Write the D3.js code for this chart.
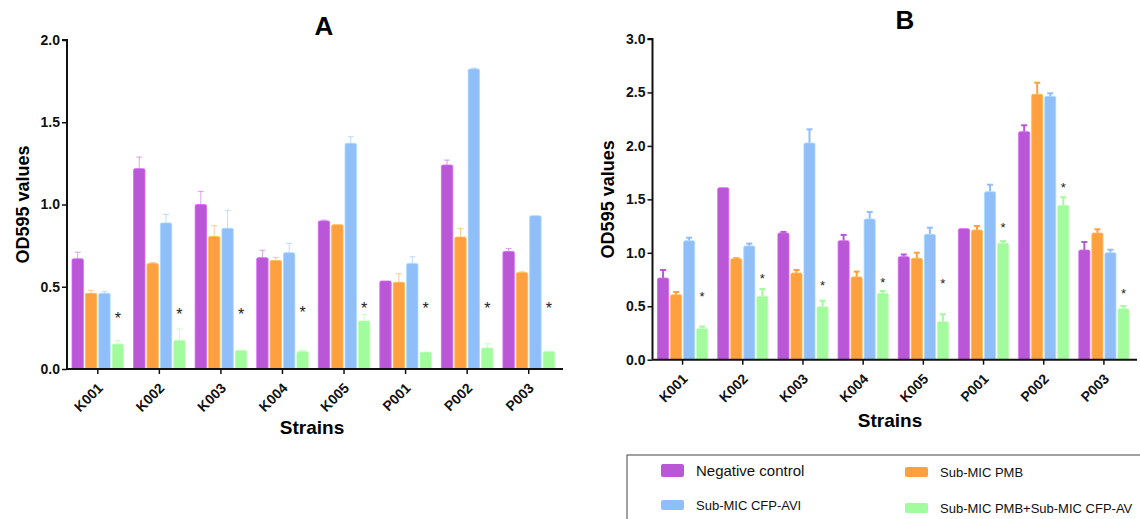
<!DOCTYPE html>
<html>
<head>
<meta charset="utf-8">
<script src="https://cdn.jsdelivr.net/npm/d3@7/dist/d3.min.js"></script>
<style>
  body { margin: 0; background: #fff; }
  svg { display: block; font-family: "Liberation Sans", Arial, sans-serif; }
</style>
</head>
<body>
<div id="chart"></div>
<script>
// strains and treatment groups
const strains = ['K001', 'K002', 'K003', 'K004', 'K005', 'P001', 'P002', 'P003']
const series = ['Negative control', 'Sub-MIC PMB', 'Sub-MIC CFP-AVI', 'Sub-MIC PMB+Sub-MIC CFP-AV']
const colors = ['#b957d6', '#ffa040', '#90bef8', '#a2fb9c']

// panel A: means and SD, one row per strain, one column per series
const meanA = [
  [0.67, 0.46, 0.46, 0.152],
  [1.218, 0.642, 0.888, 0.174],
  [1.0, 0.806, 0.855, 0.113],
  [0.677, 0.66, 0.707, 0.107],
  [0.90, 0.877, 1.372, 0.292],
  [0.535, 0.527, 0.642, 0.103],
  [1.24, 0.802, 1.824, 0.128],
  [0.715, 0.586, 0.932, 0.107]
]
const errA = [
  [0.04, 0.018, 0.012, 0.02],
  [0.07, 0.005, 0.052, 0.07],
  [0.08, 0.065, 0.11, 0],
  [0.045, 0.018, 0.057, 0.008],
  [0.005, 0, 0.04, 0.04],
  [0, 0.052, 0.04, 0],
  [0.03, 0.053, 0.005, 0.025],
  [0.018, 0.005, 0, 0]
]
const starA = [0.33, 0.355, 0.355, 0.37, 0.39, 0.39, 0.39, 0.39]

// panel B
const meanB = [
  [0.764, 0.608, 1.113, 0.29],
  [1.609, 0.945, 1.064, 0.593],
  [1.185, 0.811, 2.027, 0.496],
  [1.113, 0.774, 1.316, 0.621],
  [0.964, 0.948, 1.173, 0.356],
  [1.226, 1.213, 1.572, 1.089],
  [2.133, 2.483, 2.464, 1.444],
  [1.026, 1.185, 1.001, 0.477]
]
const errB = [
  [0.075, 0.025, 0.028, 0.02],
  [0, 0.005, 0.022, 0.068],
  [0.01, 0.028, 0.128, 0.056],
  [0.054, 0.05, 0.066, 0.022],
  [0.02, 0.053, 0.062, 0.069],
  [0, 0.038, 0.065, 0.021],
  [0.06, 0.108, 0.028, 0.075],
  [0.075, 0.035, 0.028, 0.025]
]
const starB = [0.62, 0.79, 0.724, 0.752, 0.746, 1.266, 1.641, 0.649]

const ticksA = [0, 0.5, 1.0, 1.5, 2.0]
const ticksB = [0, 0.5, 1.0, 1.5, 2.0, 2.5, 3.0]

const svg = d3.select('#chart').append('svg')
  .attr('width', 1140).attr('height', 519)

function panel(opt) {
  const { title, mean, err, star, ticks, ymax, left, right, top, bottom, errStyle } = opt
  const g = svg.append('g')

  const x0 = d3.scaleBand().domain(strains).range([left, right])
  const x1 = d3.scaleBand().domain(series).range([5, x0.bandwidth() - 5]).paddingInner(0.15)
  const y = d3.scaleLinear().domain([0, ymax]).range([bottom, top])

  // bars
  strains.forEach((s, i) => {
    const grp = g.append('g').attr('transform', `translate(${x0(s)},0)`)
    series.forEach((name, j) => {
      const v = mean[i][j], e = err[i][j]
      const cx = x1(name) + x1.bandwidth() / 2
      if (e > 0) {
        const col = d3.color(colors[j])
        if (errStyle === 'light') col.opacity = 0.55
        grp.append('line')
          .attr('x1', cx).attr('x2', cx)
          .attr('y1', y(v)).attr('y2', y(v + e))
          .attr('stroke', col).attr('stroke-width', errStyle === 'light' ? 1 : 2)
        grp.append('line')
          .attr('x1', cx - 3).attr('x2', cx + 3)
          .attr('y1', y(v + e)).attr('y2', y(v + e))
          .attr('stroke', col).attr('stroke-width', errStyle === 'light' ? 1 : 2)
      }
      grp.append('rect')
        .attr('x', x1(name))
        .attr('y', y(v))
        .attr('width', x1.bandwidth())
        .attr('height', y(0) - y(v))
        .attr('rx', 1.5)
        .attr('fill', colors[j])
        .attr('stroke', d3.color(colors[j]).brighter(0.4))
        .attr('stroke-width', 0.8)
    })
    // significance star over the combination bar
    const last = series[3]
    grp.append('text')
      .attr('x', x1(last) + x1.bandwidth() / 2)
      .attr('y', y(star[i]) + opt.starSize * 0.6)
      .attr('text-anchor', 'middle')
      .style('font-size', opt.starSize + 'px')
      .attr('fill', '#222')
      .text('*')
  })

  // axes
  const yAxis = g.append('g').attr('transform', `translate(${left},0)`)
    .call(d3.axisLeft(y).tickValues(ticks).tickFormat(d3.format('.1f')).tickSize(5).tickPadding(2))
  const xAxis = g.append('g').attr('transform', `translate(0,${bottom})`)
    .call(d3.axisBottom(x0).tickSize(5).tickSizeOuter(0))

  g.selectAll('.domain').attr('stroke', '#111').attr('stroke-width', 2)
  g.selectAll('.tick line').attr('stroke', '#111').attr('stroke-width', 1.5)
  yAxis.select('.domain').attr('d', `M-5,${y(ymax)}H0V${bottom}`)
  xAxis.select('.domain').attr('d', `M${left},0H${opt.axisEnd}`)
  yAxis.selectAll('.tick text')
    .style('font-family', '"Liberation Sans", Arial, sans-serif')
    .style('font-size', '14px').style('font-weight', 'bold').attr('fill', '#111')
  xAxis.selectAll('.tick text')
    .style('font-family', '"Liberation Sans", Arial, sans-serif')
    .style('font-size', '14px').style('font-weight', 'bold').attr('fill', '#111')
    .attr('text-anchor', 'end')
    .attr('dy', 0)
    .attr('y', 0)
    .attr('transform', 'translate(6,20) rotate(-45)')

  // titles
  g.append('text').attr('x', opt.titleX).attr('y', opt.titleY)
    .attr('text-anchor', 'middle').style('font-size', '26px').style('font-weight', 'bold').text(title)
  g.append('text').attr('transform', `translate(${opt.ylabX},${(top + bottom) / 2}) rotate(-90)`)
    .attr('text-anchor', 'middle').style('font-size', '18px').style('font-weight', 'bold').text('OD595 values')
  g.append('text').attr('x', opt.xlabX).attr('y', opt.xlabY)
    .attr('text-anchor', 'middle').style('font-size', '19px').style('font-weight', 'bold').text('Strains')
}

panel({
  title: 'A', mean: meanA, err: errA, star: starA, ticks: ticksA, ymax: 2.0,
  left: 67, right: 559.5, top: 40, bottom: 369, axisEnd: 563, errStyle: 'light', starSize: 16,
  titleX: 324, titleY: 35, ylabX: 29, xlabX: 312, xlabY: 434
})
panel({
  title: 'B', mean: meanB, err: errB, star: starB, ticks: ticksB, ymax: 3.0,
  left: 652.5, right: 1134, top: 39, bottom: 359.7, axisEnd: 1137, errStyle: 'solid', starSize: 13,
  titleX: 905, titleY: 29, ylabX: 614, xlabX: 890, xlabY: 427
})

// legend
const leg = svg.append('g')
leg.append('rect').attr('x', 627).attr('y', 455).attr('width', 520).attr('height', 70)
  .attr('fill', 'none').attr('stroke', '#444').attr('stroke-width', 1)
const legPos = [[661, 464, 15], [905, 467, 13], [661, 500, 13], [905, 503, 13]]
series.forEach((name, j) => {
  const [lx, ly, fs] = legPos[j]
  leg.append('rect').attr('x', lx).attr('y', ly).attr('width', 23).attr('height', j === 0 ? 13 : 10)
    .attr('rx', 2).attr('fill', colors[j])
  leg.append('text').attr('x', lx + 35).attr('y', ly + (j === 0 ? 12 : 10))
    .style('font-size', fs + 'px').attr('fill', '#111').text(name)
})
</script>
</body>
</html>
